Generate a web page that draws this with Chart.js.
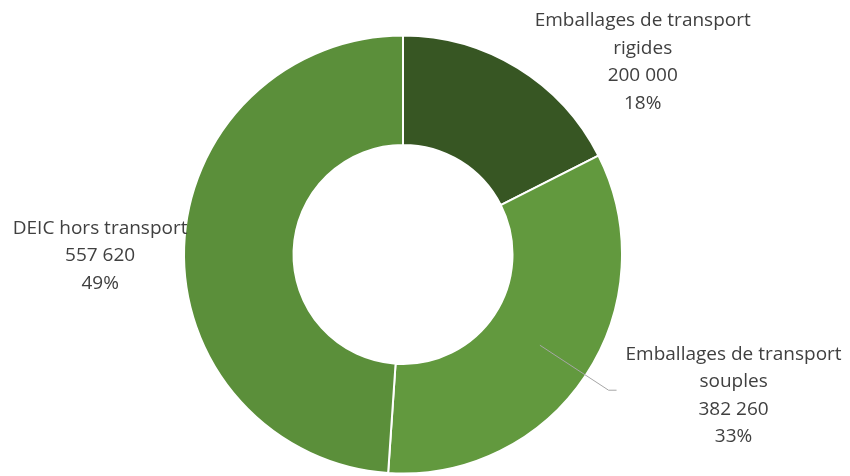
<!DOCTYPE html>
<html>
<head>
<meta charset="utf-8">
<script src="https://cdn.jsdelivr.net/npm/chart.js@4/dist/chart.umd.min.js"></script>
<style>
  html, body { margin: 0; padding: 0; background: #ffffff; }
  #wrap { width: 850px; height: 476px; }
</style>
</head>
<body>
<div id="wrap"><canvas id="c" width="850" height="476"></canvas></div>
<script>
// Répartition des tonnages
const categories = [
  ['Emballages de transport', 'rigides'],
  ['Emballages de transport', 'souples'],
  ['DEIC hors transport']
];
const values = [200000, 382260, 557620];
const percentLabels = ['18%', '33%', '49%'];
const colors = ['#375623', '#62993E', '#5B8F3A'];

// label block placement: offset of block centre from the arc's outer mid-point
const labelOffsets = [[125, -6], [148, 20], [-84, 9]];
const LINE_H = 27.5;
const FONT = '19px "Open Sans", sans-serif';

const fmt = v => v.toLocaleString('fr-FR').replace(/\u202f|\u00a0/g, ' ');

const labelPlugin = {
  id: 'outerLabels',
  afterDatasetsDraw(chart) {
    const ctx = chart.ctx;
    const meta = chart.getDatasetMeta(0);
    ctx.save();
    ctx.font = FONT;
    ctx.fillStyle = '#404040';
    ctx.textAlign = 'center';
    ctx.textBaseline = 'middle';
    meta.data.forEach((arc, i) => {
      const { x, y, startAngle, endAngle, outerRadius, innerRadius } = arc.getProps(['x', 'y', 'startAngle', 'endAngle', 'outerRadius', 'innerRadius'], true);
      const mid = (startAngle + endAngle) / 2;
      const ox = x + Math.cos(mid) * outerRadius;
      const oy = y + Math.sin(mid) * outerRadius;
      const cx = ox + labelOffsets[i][0];
      const cy = oy + labelOffsets[i][1];
      const lines = [...categories[i], fmt(values[i]), percentLabels[i]];
      const top = cy - (lines.length - 1) * LINE_H / 2;
      lines.forEach((t, k) => ctx.fillText(t, cx, top + k * LINE_H));
      if (i === 1) {
        // leader line from the ring's middle to the label
        const rm = (outerRadius + innerRadius) / 2;
        const sx = x + Math.cos(mid) * rm;
        const sy = y + Math.sin(mid) * rm;
        const ex = cx - 117, ey = top + 36;
        ctx.beginPath();
        ctx.strokeStyle = '#A6A6A6';
        ctx.lineWidth = 1;
        ctx.moveTo(sx, sy);
        ctx.lineTo(ex - 8, ey);
        ctx.lineTo(ex, ey);
        ctx.stroke();
      }
    });
    ctx.restore();
  }
};

new Chart(document.getElementById('c'), {
  type: 'doughnut',
  data: {
    labels: categories.map(c => c.join(' ')),
    datasets: [{
      data: values,
      backgroundColor: colors,
      borderColor: '#ffffff',
      borderWidth: 2
    }]
  },
  options: {
    responsive: false,
    animation: false,
    cutout: '50%',
    layout: { padding: { left: 183, right: 227, top: 34, bottom: 1 } },
    plugins: {
      legend: { display: false },
      tooltip: { enabled: false }
    }
  },
  plugins: [labelPlugin]
});
</script>
</body>
</html>
